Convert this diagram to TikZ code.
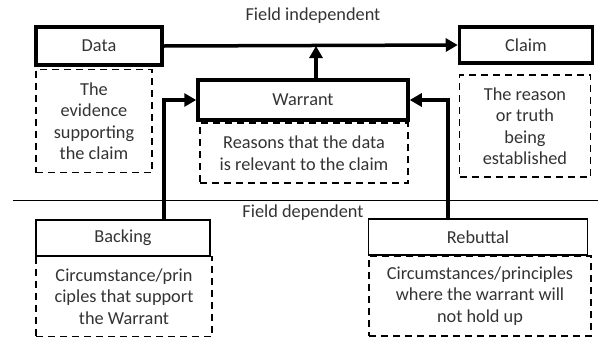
\documentclass[tikz,border=0pt]{standalone}
\usepackage{fontspec}
\setmainfont{Carlito}
\usetikzlibrary{arrows.meta}

\begin{document}
\begin{tikzpicture}[x=1pt, y=-1pt,
    every node/.style={font=\fontsize{18.3}{21.5}\selectfont, text=black!80, align=center, inner sep=0pt},
    mainbox/.style={draw, line width=3.5pt, rectangle},
    sidebox/.style={draw, line width=1.5pt, rectangle},
    notebox/.style={draw, line width=1.8pt, dash pattern=on 7pt off 5pt, rectangle},
    link/.style={line width=3.5pt, -{Triangle[length=12pt, width=13pt]}}]
      \useasboundingbox (0,0) rectangle (598,338);

      \node at (313,16) {Field independent};
      \node at (303,213) {Field dependent};
      \draw[line width=1pt] (13,200) -- (598,200);

      \node[mainbox, minimum width=126, minimum height=38] (data) at (99,46) {Data};
      \node[notebox, minimum width=116, minimum height=103] (datanote) at (94,121) {The\\evidence\\supporting\\the claim};

      \node[mainbox, minimum width=210, minimum height=40] (warrant) at (303,100) {Warrant};
      \node[notebox, minimum width=208, minimum height=60] (warrantnote) at (304,153) {Reasons that the data\\is relevant to the claim};

      \node[mainbox, minimum width=133, minimum height=36] (claim) at (526,45) {Claim};
      \node[notebox, minimum width=131, minimum height=102] (claimnote) at (525,126) {The reason\\or truth\\being\\established};

      \node[sidebox, minimum width=174, minimum height=36] (backing) at (123,238) {Backing};
      \node[notebox, minimum width=176, minimum height=80] (backingnote) at (124,296.5) {Circumstance/prin\\ciples that support\\the Warrant};

      \node[sidebox, minimum width=219, minimum height=36] (rebuttal) at (478,237) {Rebuttal};
      \node[notebox, minimum width=222, minimum height=80] (rebuttalnote) at (480,296) {Circumstances/principles\\where the warrant will\\not hold up};

      \coordinate (wup) at ([xshift=13pt]warrant.north);
      \coordinate (rebx) at (448,0);

      \draw[link] (data.east) -- (claim.west);
      \draw[link] (wup) -- (wup |- data.east);
      \draw[link] (data.east |- backing.north) |- (warrant.west);
      \draw[link] (rebuttal.north -| rebx) |- (warrant.east);
    \end{tikzpicture}
\end{document}
